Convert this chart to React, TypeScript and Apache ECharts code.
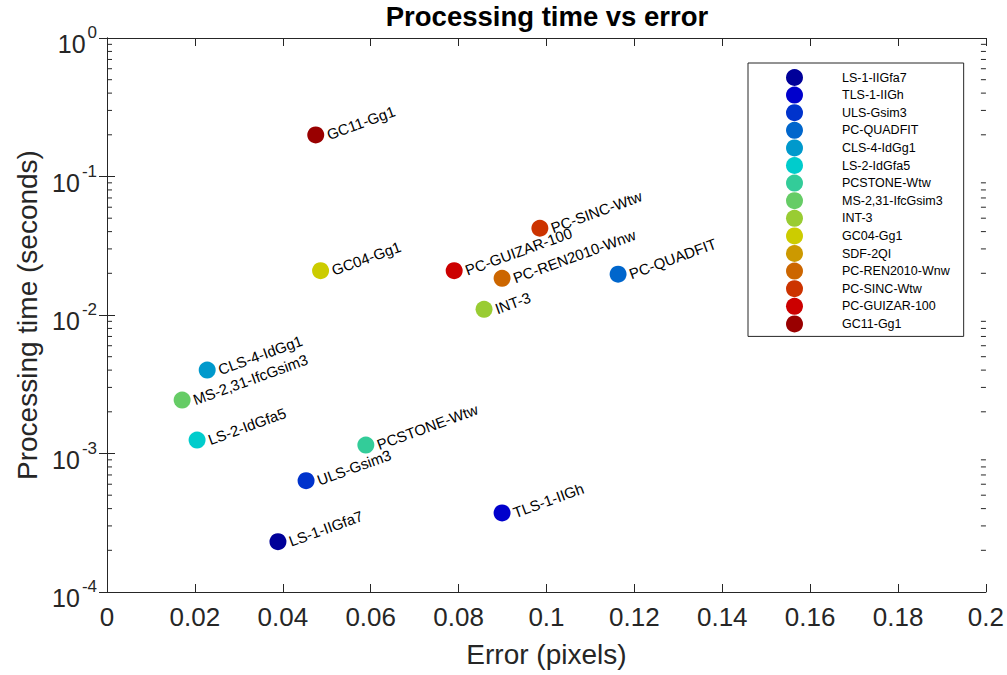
import React, { useEffect, useRef } from "react";
import * as echarts from "echarts";

const FONT = "'Liberation Sans', Arial, Helvetica, sans-serif";

const methodNames = [
  "LS-1-IIGfa7",
  "TLS-1-IIGh",
  "ULS-Gsim3",
  "PC-QUADFIT",
  "CLS-4-IdGg1",
  "LS-2-IdGfa5",
  "PCSTONE-Wtw",
  "MS-2,31-IfcGsim3",
  "INT-3",
  "GC04-Gg1",
  "SDF-2QI",
  "PC-REN2010-Wnw",
  "PC-SINC-Wtw",
  "PC-GUIZAR-100",
  "GC11-Gg1",
];

// Error (pixels); null = not visible in the plotted range
const errorPx: (number | null)[] = [
  0.0389, 0.0899, 0.0453, 0.1163, 0.0228, 0.0205, 0.0589, 0.0171, 0.0858,
  0.0486, null, 0.0899, 0.0985, 0.079, 0.0475,
];

// Processing time (seconds)
const timeSec: (number | null)[] = [
  2.31e-4, 3.72e-4, 6.37e-4, 0.0197, 0.004, 0.00125, 0.00115, 0.00243, 0.011,
  0.0209, null, 0.0184, 0.0423, 0.0209, 0.1995,
];

const markerColors = [
  "#000099", "#0000cc", "#0033cc", "#0066cc", "#0099cc", "#00cccc", "#33cc99",
  "#66cc66", "#99cc33", "#cccc00", "#cc9900", "#cc6600", "#cc3300", "#cc0000",
  "#990000",
];

const xMin = 0;
const xMax = 0.2;
const xStep = 0.02;
const yMin = 1e-4;
const yMax = 1;

// log-axis minor tick positions (2..9 per decade) – axis decoration
const yMinorTicks: number[] = [];
for (let e = -4; e < 0; e++) {
  for (let m = 2; m <= 9; m++) yMinorTicks.push(m * Math.pow(10, e));
}

const AXIS_COLOR = "#262626";

export default function App() {
  const ref = useRef<HTMLDivElement>(null);

  useEffect(() => {
    const chart = echarts.init(ref.current!, null, { renderer: "svg" });

    const scatterSeries = methodNames.map((name, i) => ({
      name,
      type: "scatter",
      xAxisIndex: 0,
      yAxisIndex: 0,
      symbol: "circle",
      symbolSize: 17,
      itemStyle: { color: markerColors[i], opacity: 1 },
      data:
        errorPx[i] == null || timeSec[i] == null
          ? []
          : [[errorPx[i], timeSec[i]]],
      label: {
        show: true,
        position: "right",
        distance: 3,
        rotate: 20,
        formatter: "{a}",
        fontSize: 15,
        fontFamily: FONT,
        color: "#000",
        align: "left",
        verticalAlign: "middle",
      },
      emphasis: { disabled: true },
      z: 3,
    }));

    const minorTickSeries = {
      type: "custom",
      xAxisIndex: 0,
      yAxisIndex: 0,
      silent: true,
      z: 1,
      data: yMinorTicks.map((v) => [xMin, v]),
      renderItem: (_params: any, api: any) => {
        const v = api.value(1);
        const l = api.coord([xMin, v]);
        const r = api.coord([xMax, v]);
        return {
          type: "group",
          children: [
            {
              type: "line",
              shape: { x1: l[0], y1: l[1], x2: l[0] + 5, y2: l[1] },
              style: { stroke: AXIS_COLOR, lineWidth: 1 },
            },
            {
              type: "line",
              shape: { x1: r[0] - 5, y1: r[1], x2: r[0], y2: r[1] },
              style: { stroke: AXIS_COLOR, lineWidth: 1 },
            },
          ],
        };
      },
    };

    const axisLine = { show: true, lineStyle: { color: AXIS_COLOR, width: 1 } };
    const tickInside = {
      show: true,
      inside: true,
      length: 8,
      lineStyle: { color: AXIS_COLOR, width: 1 },
    };

    chart.setOption({
      animation: false,
      backgroundColor: "#fff",
      title: {
        text: "Processing time vs error",
        left: 547,
        top: 2,
        textAlign: "center",
        padding: 0,
        textStyle: {
          fontFamily: FONT,
          fontSize: 27.5,
          fontWeight: "bold",
          color: "#000",
        },
      },
      grid: { left: 107, right: 21, top: 38, bottom: 83, containLabel: false },
      legend: {
        data: methodNames,
        orient: "vertical",
        left: 748,
        top: 63,
        itemWidth: 17,
        itemHeight: 17,
        itemGap: 0.6,
        padding: [6, 14, 4, 38],
        icon: "circle",
        borderColor: AXIS_COLOR,
        borderWidth: 1,
        backgroundColor: "#fff",
        selectedMode: false,
        formatter: (name: string) => `{n|${name}}`,
        textStyle: {
          fontFamily: FONT,
          fontSize: 12.5,
          color: "#000",
          rich: {
            n: {
              fontFamily: FONT,
              fontSize: 12.5,
              color: "#000",
              padding: [0, 0, 0, 34],
            },
          },
        },
      },
      xAxis: [
        {
          type: "value",
          position: "bottom",
          min: xMin,
          max: xMax,
          interval: xStep,
          name: "Error (pixels)",
          nameLocation: "middle",
          nameGap: 48,
          nameTextStyle: { fontFamily: FONT, fontSize: 28, color: AXIS_COLOR },
          axisLine,
          axisTick: tickInside,
          axisLabel: {
            fontFamily: FONT,
            fontSize: 26,
            color: AXIS_COLOR,
            margin: 12,
            formatter: (v: number) => String(parseFloat(v.toFixed(4))),
          },
          splitLine: { show: false },
        },
        {
          type: "value",
          position: "top",
          min: xMin,
          max: xMax,
          interval: xStep,
          axisLine,
          axisTick: tickInside,
          axisLabel: { show: false },
          splitLine: { show: false },
        },
      ],
      yAxis: [
        {
          type: "log",
          logBase: 10,
          position: "left",
          min: yMin,
          max: yMax,
          splitNumber: 4,
          name: "Processing time (seconds)",
          nameLocation: "middle",
          nameGap: 66,
          nameTextStyle: { fontFamily: FONT, fontSize: 28, color: AXIS_COLOR },
          axisLine,
          axisTick: tickInside,
          axisLabel: {
            margin: 10,
            formatter: (v: number) =>
              `{b|10}{s|${Math.round(Math.log10(v))}}`,
            rich: {
              b: {
                fontFamily: FONT,
                fontSize: 25,
                height: 26,
                lineHeight: 26,
                color: AXIS_COLOR,
                verticalAlign: "bottom",
              },
              s: {
                fontFamily: FONT,
                fontSize: 17,
                height: 27,
                lineHeight: 38,
                color: AXIS_COLOR,
                verticalAlign: "top",
                padding: [0, 0, 0, 2],
              },
            },
          },
          splitLine: { show: false },
          minorTick: { show: false },
        },
        {
          type: "log",
          logBase: 10,
          position: "right",
          min: yMin,
          max: yMax,
          splitNumber: 4,
          axisLine,
          axisTick: tickInside,
          axisLabel: { show: false },
          splitLine: { show: false },
        },
      ],
      series: [minorTickSeries, ...scatterSeries],
    });

    return () => chart.dispose();
  }, []);

  return (
    <div
      ref={ref}
      style={{ position: "fixed", left: 0, top: 0, width: 1007, height: 675 }}
    />
  );
}
